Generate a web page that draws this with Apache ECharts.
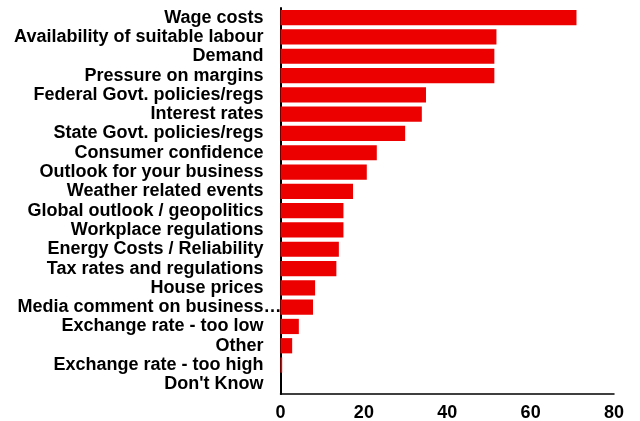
<!DOCTYPE html>
<html>
<head>
<meta charset="utf-8">
<script src="https://cdn.jsdelivr.net/npm/echarts@6/dist/echarts.min.js"></script>
<style>
  html, body { margin: 0; padding: 0; background: #fff; }
  #chart { width: 640px; height: 421px; }
</style>
</head>
<body>
<div id="chart"></div>
<script>
// Business concerns, listed top to bottom
const categories = [
  'Wage costs',
  'Availability of suitable labour',
  'Demand',
  'Pressure on margins',
  'Federal Govt. policies/regs',
  'Interest rates',
  'State Govt. policies/regs',
  'Consumer confidence',
  'Outlook for your business',
  'Weather related events',
  'Global outlook / geopolitics',
  'Workplace regulations',
  'Energy Costs / Reliability',
  'Tax rates and regulations',
  'House prices',
  'Media comment on business\u2026',
  'Exchange rate - too low',
  'Other',
  'Exchange rate - too high',
  "Don't Know"
];
const values = [71.0, 51.8, 51.3, 51.3, 34.9, 33.9, 29.9, 23.1, 20.7, 17.4, 15.1, 15.1, 14.0, 13.4, 8.3, 7.8, 4.4, 2.8, 0.4, 0];
const xTicks = [0, 20, 40, 60, 80];

const font = '"Liberation Sans", Arial, sans-serif';
const labelStyle = { color: '#000', fontFamily: font, fontWeight: 'bold', fontSize: 18, lineHeight: 18 };

// width of a label without its trailing ellipsis, so the ellipsis can hang past the edge
const measureCtx = document.createElement('canvas').getContext('2d');
measureCtx.font = 'bold 18px ' + font;
function bodyWidth(text) {
  return Math.round(measureCtx.measureText(text.slice(0, -1)).width);
}

const chart = echarts.init(document.getElementById('chart'), null, { renderer: 'canvas' });
chart.setOption({
  animation: false,
  backgroundColor: '#ffffff',
  grid: { left: 280.5, right: 26, top: 8, bottom: 27, containLabel: false, outerBoundsMode: 'none' },
  xAxis: {
    type: 'value',
    min: xTicks[0],
    max: xTicks[xTicks.length - 1],
    interval: 20,
    axisLine: { show: true, lineStyle: { color: '#000', width: 1.5 } },
    axisTick: { show: false },
    splitLine: { show: false },
    axisLabel: { color: '#000', fontFamily: font, fontWeight: 'bold', fontSize: 18, margin: 10 }
  },
  yAxis: {
    type: 'category',
    inverse: true,
    data: categories,
    axisLine: { show: true, lineStyle: { color: '#000', width: 2 } },
    axisTick: { show: false },
    axisLabel: Object.assign({
      interval: 0,
      margin: 17,
      formatter: function (v) {
        return v.slice(-1) === '\u2026' ? '{t|' + v + '}' : v;
      },
      rich: {
        t: Object.assign({ width: bodyWidth(categories[15]), align: 'left' }, labelStyle)
      }
    }, labelStyle)
  },
  series: [{
    type: 'bar',
    data: values,
    barCategoryGap: '21%',
    itemStyle: { color: '#ec0000' }
  }]
});
</script>
</body>
</html>
